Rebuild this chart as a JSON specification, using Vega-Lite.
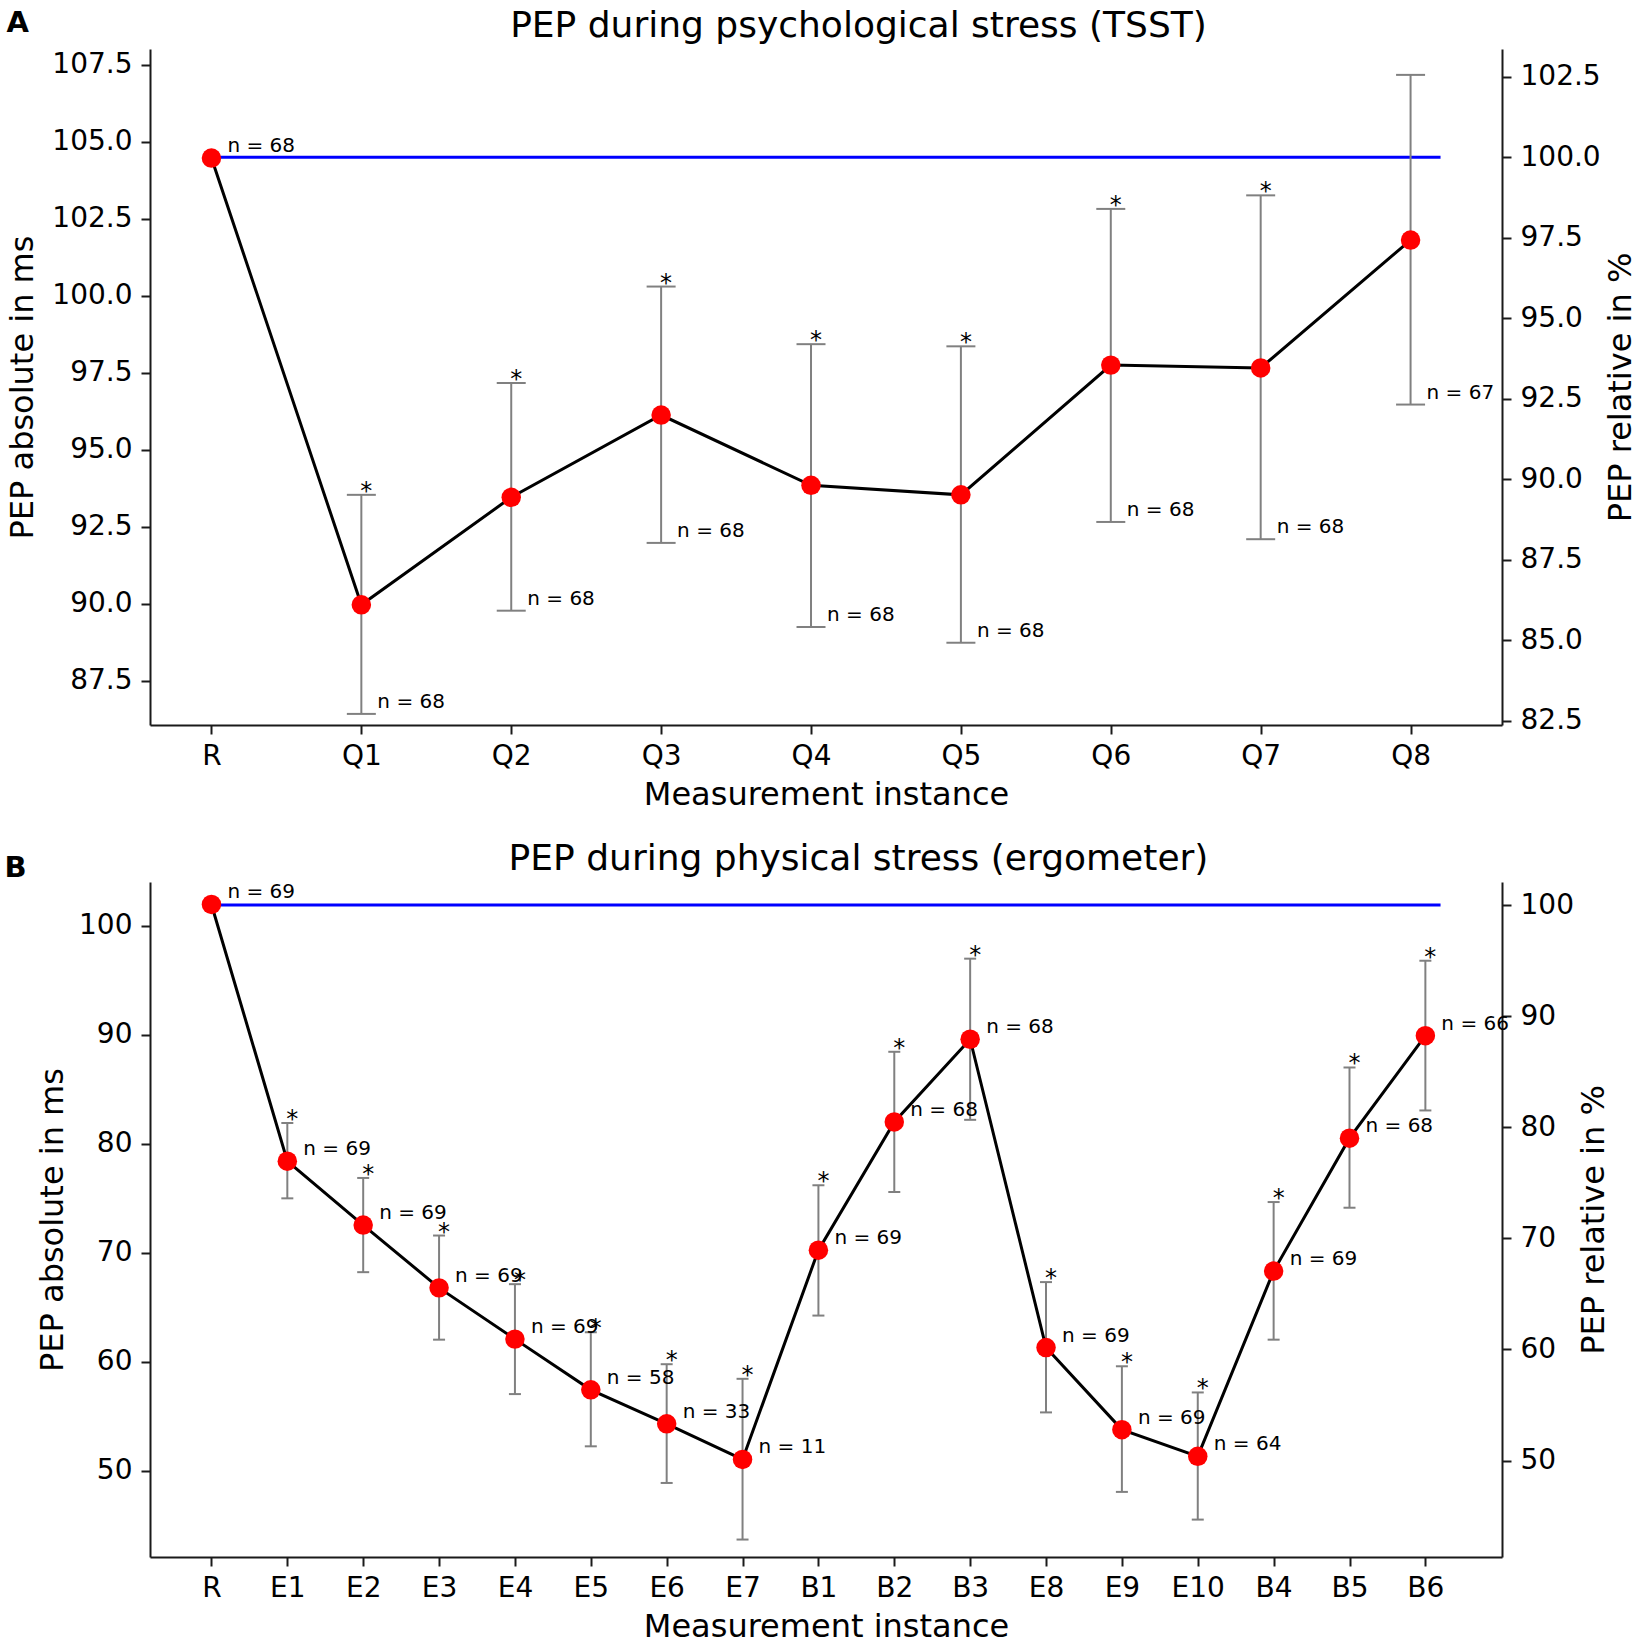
{
  "$schema": "https://vega.github.io/schema/vega-lite/v6.json",
  "description": "PEP during psychological (TSST) and physical (ergometer) stress, absolute (left) and relative (right) axes",
  "background": "white",
  "padding": {"left": 4, "top": 7, "right": 0, "bottom": 0},
  "spacing": 30,
  "config": {
    "font": "DejaVu Sans",
    "view": {"stroke": null},
    "axis": {
      "grid": false,
      "domainColor": "#1a1a1a",
      "domainWidth": 2,
      "tickColor": "#1a1a1a",
      "tickWidth": 2,
      "tickSize": 9,
      "labelFont": "DejaVu Sans",
      "labelFontSize": 28,
      "labelColor": "black",
      "labelPadding": 9,
      "labelOverlap": false,
      "labelFlush": false,
      "titleFont": "DejaVu Sans",
      "titleFontSize": 32,
      "titleFontWeight": "normal",
      "titleColor": "black"
    },
    "text": {"font": "DejaVu Sans", "color": "black"}
  },
  "vconcat": [
    {
      "width": 1352,
      "height": 676,
      "data": {
        "values": [
          {"idx": 0, "instance": "R", "mean": 104.47, "lower": null, "upper": null, "ntext": "n = 68", "star": ""},
          {"idx": 1, "instance": "Q1", "mean": 89.97, "lower": 86.43, "upper": 93.54, "ntext": "n = 68", "star": "*"},
          {"idx": 2, "instance": "Q2", "mean": 93.46, "lower": 89.78, "upper": 97.17, "ntext": "n = 68", "star": "*"},
          {"idx": 3, "instance": "Q3", "mean": 96.13, "lower": 91.98, "upper": 100.3, "ntext": "n = 68", "star": "*"},
          {"idx": 4, "instance": "Q4", "mean": 93.85, "lower": 89.25, "upper": 98.43, "ntext": "n = 68", "star": "*"},
          {"idx": 5, "instance": "Q5", "mean": 93.54, "lower": 88.74, "upper": 98.36, "ntext": "n = 68", "star": "*"},
          {"idx": 6, "instance": "Q6", "mean": 97.75, "lower": 92.66, "upper": 102.82, "ntext": "n = 68", "star": "*"},
          {"idx": 7, "instance": "Q7", "mean": 97.66, "lower": 92.1, "upper": 103.26, "ntext": "n = 68", "star": "*"},
          {"idx": 8, "instance": "Q8", "mean": 101.81, "lower": 96.47, "upper": 107.17, "ntext": "n = 67", "star": ""}
        ]
      },
      "layer": [
        {
          "data": {"values": [{"start": 0, "end": 8.2, "pct": 100}]},
          "mark": {"type": "rule", "color": "#0000ff", "strokeWidth": 3},
          "encoding": {
            "x": {
              "field": "start", "type": "quantitative",
              "scale": {"domain": [-0.41, 8.61], "nice": false, "zero": false},
              "axis": {"orient": "bottom", "values": [0, 1, 2, 3, 4, 5, 6, 7, 8], "labelExpr": "['R','Q1','Q2','Q3','Q4','Q5','Q6','Q7','Q8'][datum.value]", "title": "Measurement instance", "labelPadding": 8, "titlePadding": 9}
            },
            "x2": {"field": "end"},
            "y": {
              "field": "pct", "type": "quantitative",
              "scale": {"domain": [82.37, 103.36], "nice": false, "zero": false},
              "axis": {"orient": "right", "values": [82.5, 85, 87.5, 90, 92.5, 95, 97.5, 100, 102.5], "format": ".1f", "title": "PEP relative in %", "titleAngle": 270, "titleBaseline": "top", "titlePadding": 5}
            }
          }
        },
        {
          "encoding": {
            "x": {
              "field": "idx", "type": "quantitative",
              "scale": {"domain": [-0.41, 8.61], "nice": false, "zero": false},
              "axis": {"orient": "top", "domain": false, "ticks": false, "labels": false, "title": "PEP during psychological stress (TSST)", "titleFontSize": 36, "titlePadding": 5, "titleX": 708}
            }
          },
          "layer": [
            {
              "mark": {"type": "rule", "color": "#808080", "strokeWidth": 2},
              "encoding": {
                "y": {
                  "field": "lower", "type": "quantitative",
                  "scale": {"domain": [86.07, 108.01], "nice": false, "zero": false},
                  "axis": {"orient": "left", "values": [87.5, 90, 92.5, 95, 97.5, 100, 102.5, 105, 107.5], "format": ".1f", "title": "PEP absolute in ms", "titlePadding": 12}
                },
                "y2": {"field": "upper"}
              }
            },
            {
              "mark": {"type": "tick", "orient": "horizontal", "size": 29, "thickness": 2, "color": "#808080", "opacity": 1},
              "encoding": {"y": {"field": "lower", "type": "quantitative"}}
            },
            {
              "mark": {"type": "tick", "orient": "horizontal", "size": 29, "thickness": 2, "color": "#808080", "opacity": 1},
              "encoding": {"y": {"field": "upper", "type": "quantitative"}}
            },
            {
              "mark": {"type": "line", "color": "black", "strokeWidth": 3},
              "encoding": {"y": {"field": "mean", "type": "quantitative"}}
            },
            {
              "mark": {"type": "circle", "color": "#ff0000", "size": 380, "opacity": 1},
              "encoding": {"y": {"field": "mean", "type": "quantitative"}}
            },
            {
              "transform": [{"filter": "datum.lower != null"}],
              "mark": {"type": "text", "align": "left", "baseline": "bottom", "dx": 16, "dy": -2, "fontSize": 20},
              "encoding": {"y": {"field": "lower", "type": "quantitative"}, "text": {"field": "ntext"}}
            },
            {
              "transform": [{"filter": "datum.lower == null"}],
              "mark": {"type": "text", "align": "left", "baseline": "bottom", "dx": 16, "dy": -2, "fontSize": 20},
              "encoding": {"y": {"field": "mean", "type": "quantitative"}, "text": {"field": "ntext"}}
            }
          ]
        },
        {
          "transform": [{"filter": "datum.upper != null"}],
          "mark": {"type": "text", "align": "center", "baseline": "alphabetic", "dx": 5, "dy": 4, "fontSize": 24},
          "encoding": {
            "x": {
              "field": "idx", "type": "quantitative",
              "scale": {"domain": [-0.41, 8.61], "nice": false, "zero": false},
              "axis": {"orient": "top", "domain": false, "ticks": false, "labels": false, "title": "A", "titleFontSize": 29, "titleFontWeight": "bold", "titleX": -144, "titleY": -18, "titleAlign": "left", "titleBaseline": "alphabetic", "titleAngle": 0}
            },
            "y": {"field": "upper", "type": "quantitative", "scale": {"domain": [86.07, 108.01], "nice": false, "zero": false}, "axis": null},
            "text": {"field": "star"}
          }
        }
      ],
      "resolve": {"scale": {"y": "independent"}, "axis": {"x": "independent", "y": "independent"}}
    },
    {
      "width": 1352,
      "height": 675,
      "data": {
        "values": [
          {"idx": 0, "instance": "R", "mean": 101.95, "lower": null, "upper": null, "ntext": "n = 69", "star": ""},
          {"idx": 1, "instance": "E1", "mean": 78.41, "lower": 75.0, "upper": 81.91, "ntext": "n = 69", "star": "*"},
          {"idx": 2, "instance": "E2", "mean": 72.55, "lower": 68.23, "upper": 76.87, "ntext": "n = 69", "star": "*"},
          {"idx": 3, "instance": "E3", "mean": 66.79, "lower": 62.04, "upper": 71.59, "ntext": "n = 69", "star": "*"},
          {"idx": 4, "instance": "E4", "mean": 62.09, "lower": 57.05, "upper": 67.13, "ntext": "n = 69", "star": "*"},
          {"idx": 5, "instance": "E5", "mean": 57.44, "lower": 52.26, "upper": 62.72, "ntext": "n = 58", "star": "*"},
          {"idx": 6, "instance": "E6", "mean": 54.32, "lower": 48.9, "upper": 59.79, "ntext": "n = 33", "star": "*"},
          {"idx": 7, "instance": "E7", "mean": 51.06, "lower": 43.71, "upper": 58.45, "ntext": "n = 11", "star": "*"},
          {"idx": 8, "instance": "B1", "mean": 70.25, "lower": 64.25, "upper": 76.2, "ntext": "n = 69", "star": "*"},
          {"idx": 9, "instance": "B2", "mean": 82.01, "lower": 75.58, "upper": 88.44, "ntext": "n = 68", "star": "*"},
          {"idx": 10, "instance": "B3", "mean": 89.59, "lower": 82.2, "upper": 96.98, "ntext": "n = 68", "star": "*"},
          {"idx": 11, "instance": "E8", "mean": 61.32, "lower": 55.37, "upper": 67.32, "ntext": "n = 69", "star": "*"},
          {"idx": 12, "instance": "E9", "mean": 53.79, "lower": 48.08, "upper": 59.6, "ntext": "n = 69", "star": "*"},
          {"idx": 13, "instance": "E10", "mean": 51.34, "lower": 45.54, "upper": 57.2, "ntext": "n = 64", "star": "*"},
          {"idx": 14, "instance": "B4", "mean": 68.33, "lower": 62.04, "upper": 74.66, "ntext": "n = 69", "star": "*"},
          {"idx": 15, "instance": "B5", "mean": 80.52, "lower": 74.14, "upper": 87.0, "ntext": "n = 68", "star": "*"},
          {"idx": 16, "instance": "B6", "mean": 89.92, "lower": 83.06, "upper": 96.79, "ntext": "n = 66", "star": "*"}
        ]
      },
      "layer": [
        {
          "data": {"values": [{"start": 0, "end": 16.2, "pct": 100}]},
          "mark": {"type": "rule", "color": "#0000ff", "strokeWidth": 3},
          "encoding": {
            "x": {
              "field": "start", "type": "quantitative",
              "scale": {"domain": [-0.81, 17.01], "nice": false, "zero": false},
              "axis": {"orient": "bottom", "values": [0, 1, 2, 3, 4, 5, 6, 7, 8, 9, 10, 11, 12, 13, 14, 15, 16], "labelExpr": "['R','E1','E2','E3','E4','E5','E6','E7','B1','B2','B3','E8','E9','E10','B4','B5','B6'][datum.value]", "title": "Measurement instance", "labelPadding": 8, "titlePadding": 9}
            },
            "x2": {"field": "end"},
            "y": {
              "field": "pct", "type": "quantitative",
              "scale": {"domain": [41.32, 102.07], "nice": false, "zero": false},
              "axis": {"orient": "right", "values": [50, 60, 70, 80, 90, 100], "format": "d", "title": "PEP relative in %", "titleAngle": 270, "titleBaseline": "top", "titlePadding": 5}
            }
          }
        },
        {
          "encoding": {
            "x": {
              "field": "idx", "type": "quantitative",
              "scale": {"domain": [-0.81, 17.01], "nice": false, "zero": false},
              "axis": {"orient": "top", "domain": false, "ticks": false, "labels": false, "title": "PEP during physical stress (ergometer)", "titleFontSize": 36, "titlePadding": 5, "titleX": 708}
            }
          },
          "layer": [
            {
              "mark": {"type": "rule", "color": "#808080", "strokeWidth": 2},
              "encoding": {
                "y": {
                  "field": "lower", "type": "quantitative",
                  "scale": {"domain": [42.11, 104.01], "nice": false, "zero": false},
                  "axis": {"orient": "left", "values": [50, 60, 70, 80, 90, 100], "format": "d", "title": "PEP absolute in ms", "titlePadding": 9}
                },
                "y2": {"field": "upper"}
              }
            },
            {
              "mark": {"type": "tick", "orient": "horizontal", "size": 12, "thickness": 2, "color": "#808080", "opacity": 1},
              "encoding": {"y": {"field": "lower", "type": "quantitative"}}
            },
            {
              "mark": {"type": "tick", "orient": "horizontal", "size": 12, "thickness": 2, "color": "#808080", "opacity": 1},
              "encoding": {"y": {"field": "upper", "type": "quantitative"}}
            },
            {
              "mark": {"type": "line", "color": "black", "strokeWidth": 3},
              "encoding": {"y": {"field": "mean", "type": "quantitative"}}
            },
            {
              "mark": {"type": "circle", "color": "#ff0000", "size": 380, "opacity": 1},
              "encoding": {"y": {"field": "mean", "type": "quantitative"}}
            },
            {
              "mark": {"type": "text", "align": "left", "baseline": "bottom", "dx": 16, "dy": -2, "fontSize": 20},
              "encoding": {"y": {"field": "mean", "type": "quantitative"}, "text": {"field": "ntext"}}
            }
          ]
        },
        {
          "transform": [{"filter": "datum.upper != null"}],
          "mark": {"type": "text", "align": "center", "baseline": "alphabetic", "dx": 5, "dy": 4, "fontSize": 24},
          "encoding": {
            "x": {
              "field": "idx", "type": "quantitative",
              "scale": {"domain": [-0.81, 17.01], "nice": false, "zero": false},
              "axis": {"orient": "top", "domain": false, "ticks": false, "labels": false, "title": "B", "titleFontSize": 29, "titleFontWeight": "bold", "titleX": -146, "titleY": -6, "titleAlign": "left", "titleBaseline": "alphabetic", "titleAngle": 0}
            },
            "y": {"field": "upper", "type": "quantitative", "scale": {"domain": [42.11, 104.01], "nice": false, "zero": false}, "axis": null},
            "text": {"field": "star"}
          }
        }
      ],
      "resolve": {"scale": {"y": "independent"}, "axis": {"x": "independent", "y": "independent"}}
    }
  ]
}
